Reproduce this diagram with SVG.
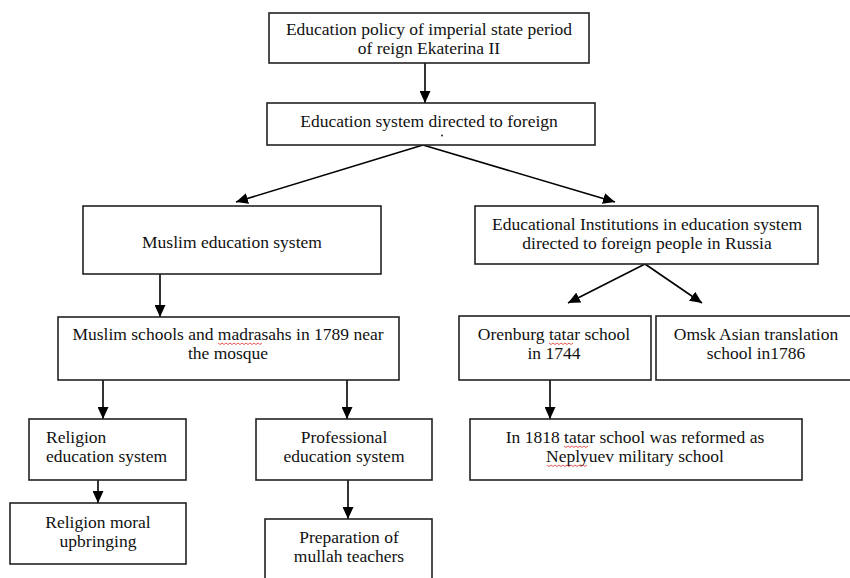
<svg xmlns="http://www.w3.org/2000/svg" width="850" height="578" viewBox="0 0 850 578">
<defs>
<marker id="ah" viewBox="0 0 12 11" refX="12" refY="5.5" markerWidth="12" markerHeight="11" markerUnits="userSpaceOnUse" orient="auto">
<path d="M0,0 L12,5.5 L0,11 z" fill="#000"/>
</marker>
<style>
.box{fill:#fff;stroke:#222;stroke-width:1.6}
.t{font-family:"Liberation Serif","DejaVu Serif",serif;font-size:17.5px;fill:#111;text-anchor:middle}
.tl{text-anchor:start}
.c{stroke:#000;stroke-width:1.6;fill:none;marker-end:url(#ah)}
.sq{stroke:#e03030;stroke-width:0.8;fill:none}
</style>
</defs>
<rect width="850" height="578" fill="#fff"/>
<g id="connectors">
<line class="c" x1="425" y1="63" x2="425" y2="103"/>
<line class="c" x1="423" y1="145" x2="236" y2="202"/>
<line class="c" x1="423" y1="145" x2="615" y2="202"/>
<line class="c" x1="160" y1="274" x2="160" y2="317"/>
<line class="c" x1="645" y1="264" x2="568" y2="303"/>
<line class="c" x1="645" y1="264" x2="702" y2="303"/>
<line class="c" x1="103" y1="380" x2="103" y2="419"/>
<line class="c" x1="347" y1="380" x2="347" y2="419"/>
<line class="c" x1="550" y1="380" x2="550" y2="419"/>
<line class="c" x1="98" y1="480" x2="98" y2="503"/>
<line class="c" x1="348" y1="480" x2="348" y2="519"/>
</g>
<g id="n1">
<rect class="box" x="269" y="13" width="320" height="50"/>
<text class="t" x="429" y="35">Education policy of imperial state period</text>
<text class="t" x="429" y="54">of reign Ekaterina II</text>
</g>
<g id="n2">
<rect class="box" x="267" y="103" width="328" height="42"/>
<text class="t" x="429" y="127">Education system directed to foreign</text>
<circle cx="442" cy="135.5" r="0.9" fill="#111"/>
</g>
<g id="n3">
<rect class="box" x="83" y="206" width="298" height="68"/>
<text class="t" x="232" y="248">Muslim education system</text>
</g>
<g id="n4">
<rect class="box" x="475" y="206" width="343" height="58"/>
<text class="t" x="647" y="230">Educational Institutions in education system</text>
<text class="t" x="647" y="249">directed to foreign people in Russia</text>
</g>
<g id="n5">
<rect class="box" x="58" y="317" width="341" height="63"/>
<text class="t" x="228" y="340">Muslim schools and madrasahs in 1789 near</text>
<text class="t" x="228" y="359">the mosque</text>
<path class="sq" d="M218,343 l2,1.5 l2,-1.5 l2,1.5 l2,-1.5 l2,1.5 l2,-1.5 l2,1.5 l2,-1.5 l2,1.5 l2,-1.5 l2,1.5 l2,-1.5 l2,1.5 l2,-1.5 l2,1.5 l2,-1.5 l2,1.5 l2,-1.5 l2,1.5 l2,-1.5 l2,1.5 l2,-1.5"/>
</g>
<g id="n6">
<rect class="box" x="459" y="316" width="192" height="64"/>
<text class="t" x="554" y="340">Orenburg tatar school</text>
<text class="t" x="554" y="359">in 1744</text>
<path class="sq" d="M549,343 l2,1.5 l2,-1.5 l2,1.5 l2,-1.5 l2,1.5 l2,-1.5 l2,1.5 l2,-1.5 l2,1.5 l2,-1.5 l2,1.5 l2,-1.5"/>
</g>
<g id="n7">
<rect class="box" x="656" y="316" width="200" height="64"/>
<text class="t" x="756" y="340">Omsk Asian translation</text>
<text class="t" x="756" y="359">school in1786</text>
</g>
<g id="n8">
<rect class="box" x="29" y="419" width="157" height="61"/>
<text class="t tl" x="46" y="443">Religion</text>
<text class="t tl" x="46" y="462">education system</text>
</g>
<g id="n9">
<rect class="box" x="256" y="419" width="176" height="61"/>
<text class="t" x="344" y="443">Professional</text>
<text class="t" x="344" y="462">education system</text>
</g>
<g id="n10">
<rect class="box" x="470" y="419" width="332" height="61"/>
<text class="t" x="635" y="443">In 1818 tatar school was reformed as</text>
<text class="t" x="635" y="462">Neplyuev military school</text>
<path class="sq" d="M564,446 l2,1.5 l2,-1.5 l2,1.5 l2,-1.5 l2,1.5 l2,-1.5 l2,1.5 l2,-1.5 l2,1.5 l2,-1.5 l2,1.5 l2,-1.5"/>
<path class="sq" d="M547,465 l2,1.5 l2,-1.5 l2,1.5 l2,-1.5 l2,1.5 l2,-1.5 l2,1.5 l2,-1.5 l2,1.5 l2,-1.5 l2,1.5 l2,-1.5 l2,1.5 l2,-1.5 l2,1.5 l2,-1.5 l2,1.5 l2,-1.5 l2,1.5 l2,-1.5"/>
</g>
<g id="n11">
<rect class="box" x="10" y="503" width="176" height="61"/>
<text class="t" x="98" y="528">Religion moral</text>
<text class="t" x="98" y="547">upbringing</text>
</g>
<g id="n12">
<rect class="box" x="265" y="519" width="167" height="70"/>
<text class="t" x="349" y="543">Preparation of</text>
<text class="t" x="349" y="562">mullah teachers</text>
</g>
</svg>
